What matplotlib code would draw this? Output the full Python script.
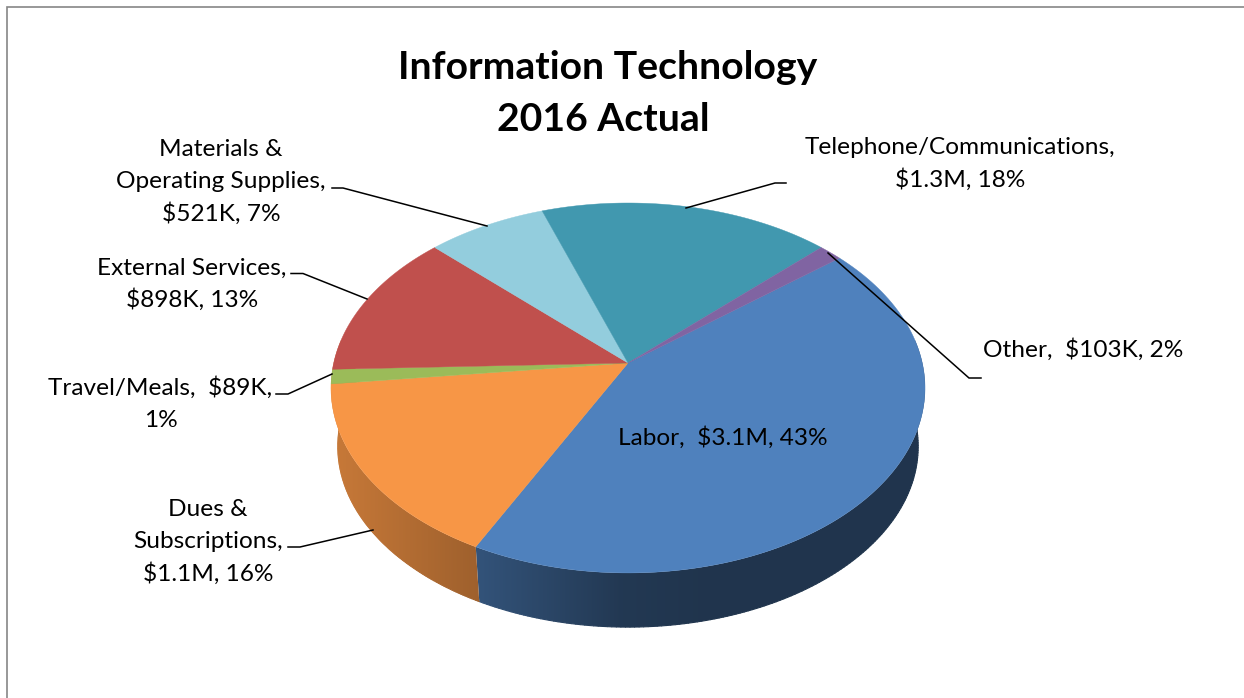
"""
Information Technology 2016 actual spend, drawn as an Excel style 3D pie
"""
import matplotlib
matplotlib.use("Agg")
import matplotlib.pyplot as plt
import numpy as np
from matplotlib.patches import Polygon

categories = ["Labor", "Dues & Subscriptions", "Travel/Meals", "External Services",
              "Materials & Operating Supplies", "Telephone/Communications", "Other"]
values_k = [3040, 1100, 89, 898, 521, 1270, 103]
colors = ["#4f81bd", "#f79646", "#9bbb59", "#c0504d", "#93cddd", "#4198af", "#8064a2"]
labels = ["Labor,  $3.1M, 43%",
          "Dues &\nSubscriptions,\n$1.1M, 16%",
          "Travel/Meals,  $89K,\n1%",
          "External Services,\n$898K, 13%",
          "Materials &\nOperating Supplies,\n$521K, 7%",
          "Telephone/Communications,\n$1.3M, 18%",
          "Other,  $103K, 2%"]
# centre x and first baseline y of each label
label_pos = [(723, 444.5), (208, 515.5), (160.5, 394.5), (192, 274.5), (221, 155.5), (960, 154.5), (1083, 356.5)]
leaders = [None,
           [(288, 547), (300, 547), (373, 530)],
           [(276, 394), (288, 394), (332, 374)],
           [(291, 273.5), (303, 273.5), (367, 299)],
           [(332, 188), (343, 188), (487, 226)],
           [(686, 208), (775, 183), (786, 183)],
           [(828, 253), (969, 378), (981, 378)]]
title_lines = ["Information Technology", "2016 Actual"]
title_pos = [(607.5, 79), (603, 131)]

START_ANGLE = 38.8
CX, CY = 628, 363    # pie tip in pixels
PERSP = 0.135        # perspective, makes the tip sit above the ellipse centre
RX, RY = 294.3, 181.6
DEPTH = 59
BOTTOM_SCALE = 0.977
LINE_STEP = 32.7
WALL_SLICES = {0: 0, 1: 20}   # slice index -> extra degrees past its clockwise end, only these show a wall

plt.rcParams['font.family'] = ['Lato', 'DejaVu Sans']


def project(deg, scale=1.0, drop=0):
    # circle angle -> picture pixels
    t = np.radians(deg)
    u, v = np.cos(t), np.sin(t)
    w = 1 + PERSP * v
    return CX + scale * RX * u / w, CY + drop - scale * RY * v / w


def side_shade(x):
    return np.interp(x, [340, 480, 620, 700], [0.80, 0.64, 0.44, 0.41])


fig = plt.figure(figsize=(12.44, 6.98), dpi=100)
ax = fig.add_axes([0, 0, 1, 1])
ax.axis("off")

# frame of the pasted chart
ax.plot([7, 7, 1244], [698, 6.5, 6.5], color="#868686", lw=1.2, solid_joinstyle="miter")

sweeps = np.array(values_k) / sum(values_k) * 360
ends = START_ANGLE - np.cumsum(sweeps)
starts = ends + sweeps

# side wall first, a horizontal gradient clipped to each slice's wall
grad_x = np.arange(320, 940)
for idx, extra in WALL_SLICES.items():
    base = np.array(matplotlib.colors.to_rgb(colors[idx]))
    ang = np.linspace(starts[idx], ends[idx] - extra, 200)
    xt, yt = project(ang)
    xb, yb = project(ang, BOTTOM_SCALE, DEPTH)
    wall = np.column_stack([np.r_[xt, xb[::-1]], np.r_[yt, yb[::-1]]])
    patch = Polygon(wall, closed=True, facecolor="none", edgecolor="none", transform=ax.transData)
    ax.add_patch(patch)
    rgb = base[None, None, :] * side_shade(grad_x)[None, :, None]
    im = ax.imshow(rgb, extent=(320, 940, 640, 340), aspect="auto", zorder=2,
                   interpolation="bilinear")
    im.set_clip_path(patch)
    # soften the clipped lower edge
    ang_front = ang[np.sin(np.radians(ang)) < 0.2]
    if len(ang_front) > 1:
        xe, ye = project(ang_front, BOTTOM_SCALE, DEPTH)
        for i in range(0, len(xe) - 1):
            ax.plot(xe[i:i + 2], ye[i:i + 2], lw=0.8, zorder=2.5, solid_capstyle="round",
                    color=base * side_shade((xe[i] + xe[i + 1]) / 2))

# top face
for th1, th0, col in zip(starts, ends, colors):
    ang = np.linspace(th1, th0, 120)
    x, y = project(ang)
    ax.fill(np.r_[CX, x], np.r_[CY, y], color=col, lw=0.3, zorder=3)

for pts in leaders:
    if pts is None:
        continue
    xs, ys = zip(*pts)
    ax.plot(xs, ys, color="black", lw=1.1, zorder=4, solid_joinstyle="miter")

for text, (x, y) in zip(labels, label_pos):
    for i, line in enumerate(text.split("\n")):
        ax.text(x, y + i * LINE_STEP, line, ha="center", va="baseline", fontsize=17.6,
                color="black", zorder=5)

for line, (x, y) in zip(title_lines, title_pos):
    ax.text(x, y, line, ha="center", va="baseline", fontsize=28.2, fontweight="bold",
            color="black", zorder=5)

ax.set_xlim(0, 1244)
ax.set_ylim(698, 0)

plt.savefig("out.png", dpi=100)
